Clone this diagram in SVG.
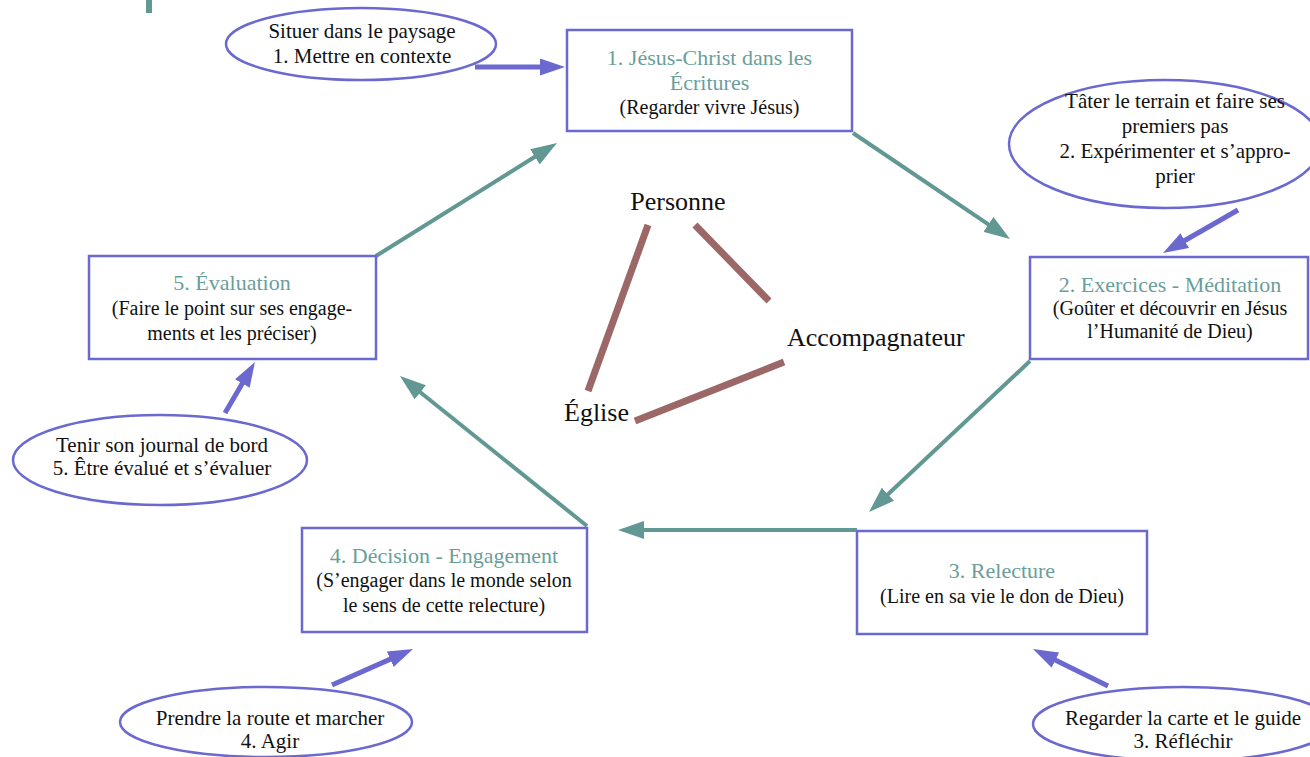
<svg xmlns="http://www.w3.org/2000/svg" width="1310" height="757" viewBox="0 0 1310 757">
<style>
.box{fill:#fff;stroke:#6B69D0;stroke-width:2.5}
.ell{fill:#fff;stroke:#6B69D0;stroke-width:2.5}
text{font-family:'Liberation Serif','DejaVu Serif',serif}
.t{text-anchor:middle}
.ttl{font-size:22px;fill:#6A9E9A}
.sub{font-size:20px;fill:#111}
.et{font-size:21px;fill:#111}
.lbl{font-size:26px;fill:#111}
.teal{stroke:#629893;stroke-width:4;fill:none;marker-end:url(#ht)}
.blue{stroke:#6B69D0;stroke-width:5;fill:none;marker-end:url(#hb)}
.brown{stroke:#9B6767;stroke-width:7;fill:none}
</style>
<defs>
<marker id="ht" markerUnits="userSpaceOnUse" markerWidth="26" markerHeight="18" refX="16" refY="9" orient="auto">
<path d="M0,0 L26,9 L0,18 z" fill="#629893"/>
</marker>
<marker id="hb" markerUnits="userSpaceOnUse" markerWidth="25" markerHeight="17" refX="15" refY="8.5" orient="auto">
<path d="M0,0 L25,8.5 L0,17 z" fill="#6B69D0"/>
</marker>
</defs>
<rect width="1310" height="757" fill="#fff"/>
<rect x="146" y="0" width="6" height="13" fill="#629893"/>

<g id="connectors">
<line class="teal" x1="853" y1="133" x2="1001.7" y2="233.4"/>
<line class="teal" x1="1030" y1="361" x2="876.3" y2="505.2"/>
<line class="teal" x1="857" y1="530" x2="628" y2="530"/>
<line class="teal" x1="587" y1="526" x2="407.8" y2="382.3"/>
<line class="teal" x1="376" y1="256" x2="548.5" y2="148.3"/>
<line class="blue" x1="475" y1="67" x2="555" y2="67"/>
<line class="blue" x1="1238" y1="210" x2="1171.7" y2="248"/>
<line class="blue" x1="225" y1="413" x2="249.9" y2="370.6"/>
<line class="blue" x1="332" y1="685" x2="403.9" y2="653.1"/>
<line class="blue" x1="1108" y1="686" x2="1042" y2="653.4"/>
<line class="brown" x1="648" y1="225" x2="588" y2="391"/>
<line class="brown" x1="695" y1="225" x2="769" y2="301"/>
<line class="brown" x1="635" y1="421" x2="784" y2="362"/>
</g>

<g id="box1">
<rect class="box" x="567" y="30" width="285" height="101"/>
<text class="t ttl" x="709.5" y="65">1. Jésus-Christ dans les</text>
<text class="t ttl" x="709.5" y="90">Écritures</text>
<text class="t sub" x="709.5" y="114">(Regarder vivre Jésus)</text>
</g>
<g id="box2">
<rect class="box" x="1030" y="257" width="278" height="102"/>
<text class="t ttl" x="1170" y="292">2. Exercices - Méditation</text>
<text class="t sub" x="1170" y="315">(Goûter et découvrir en Jésus</text>
<text class="t sub" x="1170" y="338">l’Humanité de Dieu)</text>
</g>
<g id="box3">
<rect class="box" x="857" y="531" width="290" height="103"/>
<text class="t ttl" x="1002" y="578">3. Relecture</text>
<text class="t sub" x="1002" y="603">(Lire en sa vie le don de Dieu)</text>
</g>
<g id="box4">
<rect class="box" x="302" y="528" width="285" height="104"/>
<text class="t ttl" x="444" y="563">4. Décision - Engagement</text>
<text class="t sub" x="444" y="587">(S’engager dans le monde selon</text>
<text class="t sub" x="444" y="612">le sens de cette relecture)</text>
</g>
<g id="box5">
<rect class="box" x="89" y="256" width="287" height="103"/>
<text class="t ttl" x="232" y="290">5. Évaluation</text>
<text class="t sub" x="232" y="315">(Faire le point sur ses engage-</text>
<text class="t sub" x="232" y="340">ments et les préciser)</text>
</g>

<g id="ell1">
<ellipse class="ell" cx="361" cy="44" rx="135" ry="36"/>
<text class="t et" x="362" y="38">Situer dans le paysage</text>
<text class="t et" x="362" y="63">1. Mettre en contexte</text>
</g>
<g id="ell2">
<ellipse class="ell" cx="1165" cy="144" rx="156" ry="64"/>
<text class="t et" x="1175" y="108">Tâter le terrain et faire ses</text>
<text class="t et" x="1175" y="133">premiers pas</text>
<text class="t et" x="1175" y="158">2. Expérimenter et s’appro-</text>
<text class="t et" x="1175" y="183">prier</text>
</g>
<g id="ell3">
<ellipse class="ell" cx="1183" cy="724" rx="150" ry="37"/>
<text class="t et" x="1183" y="725">Regarder la carte et le guide</text>
<text class="t et" x="1183" y="748">3. Réfléchir</text>
</g>
<g id="ell4">
<ellipse class="ell" cx="266" cy="722" rx="146" ry="35"/>
<text class="t et" x="270" y="725">Prendre la route et marcher</text>
<text class="t et" x="270" y="748">4. Agir</text>
</g>
<g id="ell5">
<ellipse class="ell" cx="160" cy="460" rx="147" ry="45"/>
<text class="t et" x="162" y="452">Tenir son journal de bord</text>
<text class="t et" x="162" y="475">5. Être évalué et s’évaluer</text>
</g>

<g id="personne"><text class="lbl t" x="678" y="210">Personne</text></g>
<g id="accompagnateur"><text class="lbl" x="787" y="346">Accompagnateur</text></g>
<g id="eglise"><text class="lbl" x="564" y="421">Église</text></g>
</svg>
